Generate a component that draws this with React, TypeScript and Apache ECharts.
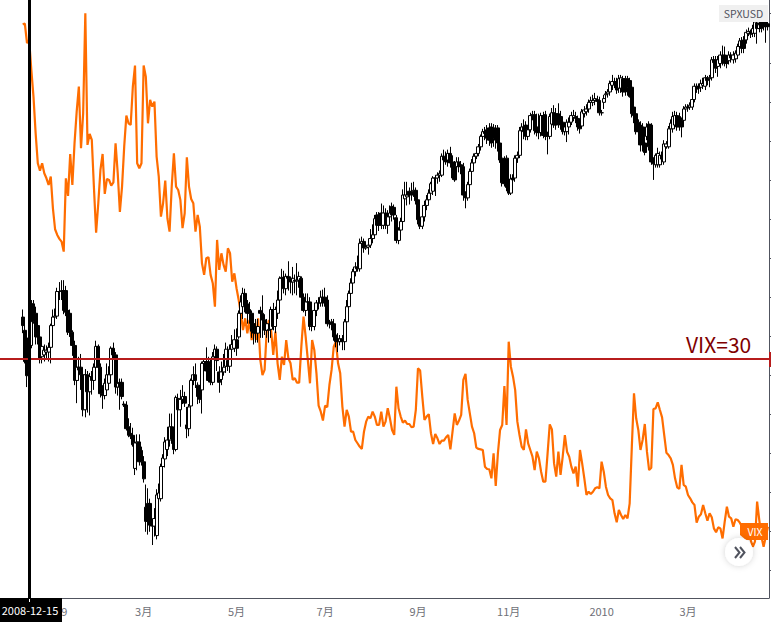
import React, { useEffect, useRef } from 'react';
import * as echarts from 'echarts';

// one daily point per row
const vixClose = [
  55.75, 55.8, 54.29, 54.54, 52.24, 50.18, 47.36, 45.06, 44.49, 45.06, 44.29, 43.9, 43.39, 44.03, 41.59, 39.98,
  39.54, 39.24, 39.03, 38.26, 43.9, 42.54, 45.77, 43.39, 46.59, 49.03, 50.95, 46.21, 48.9, 56.59, 46.47, 47.31,
  46.85, 43.13, 39.72, 41.98, 44.54, 45.77, 42.7, 43.85, 43.77, 43.34, 43.59, 46.59, 44.29, 41.31, 43.26, 46.34,
  48.72, 48.13, 48.0, 50.95, 52.57, 45.06, 44.67, 45.06, 52.57, 51.72, 48.13, 49.93, 49.41, 49.8, 45.57, 44.03,
  40.95, 41.98, 43.72, 40.83, 39.8, 43.26, 45.83, 43.26, 43.0, 42.24, 40.06, 41.21, 45.52, 43.26, 42.31, 41.98,
  39.8, 41.08, 40.18, 37.36, 36.47, 37.75, 37.83, 36.47, 35.83, 34.03, 39.16, 36.85, 38.13, 37.24, 36.72, 38.52,
  38.13, 35.95, 36.59, 35.44, 34.54, 33.52, 32.23, 33.13, 31.98, 33.0, 31.46, 32.75, 31.46, 33.13, 29.93, 28.77,
  29.16, 32.23, 33.0, 32.23, 30.31, 32.11, 29.67, 28.39, 30.18, 29.54, 31.46, 30.05, 29.67, 28.39, 28.52, 28.18,
  28.18, 30.95, 33.26, 31.72, 29.93, 28.13, 31.46, 30.7, 28.9, 26.41, 25.95, 25.26, 26.41, 26.29, 28.0, 29.16,
  30.95, 31.34, 29.67, 28.9, 26.34, 24.8, 26.08, 25.57, 24.41, 24.41, 23.77, 23.52, 23.26, 23.08, 24.41, 25.18,
  25.57, 25.44, 25.95, 25.57, 24.93, 24.93, 25.95, 24.8, 25.18, 26.21, 25.44, 24.54, 24.16, 27.87, 26.21, 25.57,
  25.11, 25.26, 25.0, 25.0, 24.75, 24.8, 26.08, 29.29, 29.11, 27.11, 25.31, 25.57, 25.75, 24.29, 23.46, 24.23,
  23.9, 23.46, 23.72, 23.72, 23.98, 24.16, 23.05, 24.41, 25.82, 24.93, 25.26, 25.7, 28.39, 28.85, 26.85, 25.82,
  24.8, 24.29, 23.18, 23.08, 23.05, 23.0, 21.72, 21.54, 21.52, 20.82, 22.75, 20.23, 22.75, 24.54, 24.92, 27.92,
  24.92, 31.33, 29.41, 28.64, 27.61, 25.18, 24.15, 23.26, 23.0, 24.59, 23.51, 23.0, 22.49, 21.46, 22.87, 22.36,
  21.33, 20.56, 20.56, 22.74, 24.97, 24.59, 21.97, 20.95, 22.87, 21.08, 22.49, 24.15, 22.87, 22.49, 21.72, 21.2,
  21.72, 20.18, 23.0, 21.97, 20.82, 19.54, 19.79, 19.61, 19.79, 20.05, 20.13, 20.05, 22.1, 21.33, 20.18, 19.54,
  19.28, 19.15, 18.13, 17.44, 18.38, 18.0, 17.69, 18.0, 17.74, 18.9, 23.26, 27.36, 25.44, 24.54, 23.0, 23.77,
  25.0, 22.87, 21.46, 21.64, 26.15, 26.2, 26.67, 26.08, 25.51, 24.15, 22.79, 22.61, 22.36, 21.85, 20.82, 20.13,
  20.0, 21.85, 20.31, 20.18, 19.54, 19.28, 18.97, 18.77, 17.41, 17.87, 18.05, 18.77, 18.13, 17.56, 18.13, 17.82,
  16.97, 16.67, 17.05, 16.97, 16.2, 17.49, 18.64, 17.87, 17.74, 17.1, 17.67, 17.61, 17.41, 17.1, 16.72, 16.59,
  16.33, 16.08, 15.56, 15.95, 19.03, 17.61, 16.33, 15.56, 16.33, 17.1,
];

// open, close, low, high
const spxOhlc = [
  [907, 898, 890, 915], [893, 860, 858, 905], [868, 845, 833, 885], [850, 885, 846, 900], [877, 921, 874, 925],
  [921, 902, 900, 925], [911, 886, 878, 918], [898, 886, 878, 905], [886, 863, 858, 888], [865, 876, 858, 880],
  [867, 872, 860, 878], [870, 872, 862, 877], [870, 875, 860, 880], [875, 898, 858, 900], [898, 907, 895, 915],
  [907, 908, 904, 916], [908, 934, 905, 938], [934, 934, 925, 944], [935, 934, 925, 946], [935, 914, 910, 946],
  [935, 912, 908, 940], [914, 891, 888, 918], [911, 891, 886, 915], [891, 877, 866, 893], [877, 840, 835, 882],
  [840, 854, 816, 860], [854, 851, 840, 865], [854, 846, 830, 868], [846, 809, 802, 850], [809, 846, 801, 852],
  [846, 828, 806, 850], [828, 844, 803, 848], [844, 840, 825, 850], [840, 854, 830, 858], [854, 876, 845, 882],
  [876, 854, 850, 878], [854, 826, 822, 858], [826, 824, 810, 835], [824, 837, 820, 842], [830, 846, 824, 858],
  [837, 846, 830, 855], [846, 874, 840, 876], [874, 867, 862, 880], [867, 833, 826, 870], [833, 837, 824, 845],
  [838, 833, 809, 842], [838, 823, 820, 842], [815, 814, 812, 818], [814, 789, 787, 818], [791, 782, 780, 800],
  [784, 781, 778, 795], [782, 772, 770, 790], [747, 774, 740, 780], [774, 775, 745, 783], [775, 754, 750, 783],
  [766, 754, 750, 770], [754, 736, 732, 760], [706, 691, 680, 730], [710, 691, 677, 726], [710, 687, 680, 715],
  [689, 686, 666, 692], [686, 694, 675, 705], [676, 719, 672, 725], [715, 721, 700, 731], [715, 749, 712, 752],
  [749, 758, 745, 762], [757, 775, 748, 780], [767, 777, 760, 791], [777, 791, 770, 805], [791, 778, 773, 805],
  [778, 767, 762, 784], [767, 822, 765, 824], [821, 809, 805, 826], [809, 820, 791, 830], [820, 823, 815, 835],
  [823, 816, 812, 828], [793, 789, 779, 812], [789, 812, 781, 815], [813, 840, 810, 842], [840, 846, 835, 855],
  [846, 840, 832, 858], [835, 823, 815, 838], [830, 820, 816, 835], [830, 858, 805, 860], [858, 860, 852, 862],
  [860, 850, 845, 875], [860, 840, 838, 865], [854, 838, 835, 862], [838, 865, 835, 870], [865, 873, 858, 878],
  [873, 861, 850, 876], [849, 838, 827, 855], [841, 849, 835, 860], [849, 854, 845, 868], [855, 873, 848, 880],
  [861, 855, 850, 876], [855, 873, 848, 878], [873, 878, 868, 888], [874, 883, 870, 894], [883, 874, 866, 895],
  [886, 911, 884, 914], [911, 923, 900, 930], [918, 932, 905, 938], [932, 919, 912, 937], [921, 911, 900, 925],
  [915, 911, 900, 923], [911, 892, 885, 914], [900, 890, 878, 905], [897, 890, 880, 905], [890, 897, 880, 905],
  [914, 911, 885, 918], [911, 904, 885, 930], [904, 893, 888, 910], [893, 900, 885, 905], [893, 894, 880, 900],
  [894, 915, 885, 918], [915, 897, 893, 922], [897, 915, 890, 918], [911, 925, 905, 935], [925, 948, 922, 950],
  [948, 949, 940, 958], [949, 937, 932, 956], [937, 950, 930, 953], [950, 948, 935, 966], [948, 944, 932, 950],
  [944, 948, 930, 960], [946, 945, 932, 952], [945, 946, 930, 964], [946, 950, 938, 955], [948, 928, 925, 950],
  [928, 914, 912, 932], [914, 923, 908, 932], [923, 923, 915, 932], [923, 897, 893, 928], [897, 898, 892, 902],
  [897, 914, 893, 918], [914, 922, 908, 925], [922, 922, 915, 928], [922, 928, 918, 935], [928, 922, 918, 936],
  [928, 922, 918, 938], [925, 900, 897, 930], [900, 900, 895, 904], [902, 899, 893, 905], [900, 886, 882, 905],
  [888, 881, 875, 892], [884, 881, 870, 890], [881, 884, 877, 888], [884, 881, 872, 888], [881, 902, 872, 905],
  [902, 918, 898, 925], [918, 932, 915, 935], [932, 943, 928, 948], [943, 955, 938, 958], [955, 960, 950, 965],
  [960, 958, 955, 972], [958, 985, 955, 990], [985, 987, 975, 992], [987, 980, 975, 990], [980, 981, 978, 985],
  [981, 983, 973, 986], [983, 990, 980, 1000], [990, 994, 985, 1005], [994, 1011, 990, 1015], [1015, 1004, 1000, 1018],
  [1015, 1004, 998, 1018], [1017, 1004, 1000, 1027], [1004, 1017, 1000, 1025], [1017, 1004, 1000, 1022], [1004, 1013, 995, 1020],
  [1013, 1017, 1008, 1025], [1024, 1015, 1008, 1028], [1023, 1015, 1010, 1026], [1012, 988, 985, 1015], [988, 999, 984, 1002],
  [999, 1008, 995, 1012], [1008, 1036, 1005, 1042], [1032, 1036, 1028, 1050], [1034, 1036, 1025, 1050], [1040, 1036, 1026, 1044],
  [1040, 1036, 1030, 1049], [1040, 1041, 1034, 1050], [1041, 1030, 1026, 1044], [1031, 1010, 1005, 1035], [1011, 1003, 1000, 1015],
  [1003, 1013, 1000, 1018], [1013, 1025, 1008, 1030], [1025, 1031, 1020, 1036], [1031, 1038, 1027, 1042], [1038, 1048, 1034, 1050],
  [1040, 1054, 1036, 1056], [1054, 1054, 1035, 1057], [1054, 1057, 1048, 1060], [1057, 1059, 1050, 1062], [1057, 1077, 1055, 1080],
  [1077, 1073, 1066, 1084], [1075, 1071, 1068, 1082], [1073, 1080, 1066, 1084], [1080, 1070, 1065, 1087], [1071, 1054, 1052, 1078],
  [1068, 1052, 1050, 1072], [1066, 1071, 1060, 1076], [1071, 1066, 1060, 1076], [1068, 1066, 1058, 1072], [1066, 1036, 1030, 1070],
  [1036, 1033, 1022, 1040], [1033, 1047, 1030, 1050], [1047, 1061, 1044, 1064], [1061, 1070, 1056, 1074], [1070, 1077, 1066, 1080],
  [1077, 1080, 1074, 1084], [1080, 1087, 1077, 1090], [1087, 1098, 1083, 1100], [1098, 1103, 1092, 1106], [1103, 1101, 1094, 1108],
  [1105, 1096, 1090, 1110], [1107, 1094, 1088, 1112], [1108, 1091, 1086, 1112], [1107, 1096, 1087, 1111], [1105, 1094, 1085, 1110],
  [1107, 1091, 1082, 1110], [1091, 1073, 1070, 1085], [1075, 1049, 1045, 1078], [1073, 1048, 1045, 1077], [1075, 1044, 1040, 1078],
  [1052, 1038, 1036, 1058], [1038, 1053, 1036, 1058], [1054, 1052, 1045, 1058], [1054, 1075, 1050, 1078], [1075, 1078, 1070, 1082],
  [1078, 1104, 1075, 1108], [1104, 1108, 1098, 1112], [1108, 1103, 1095, 1116], [1110, 1098, 1094, 1114], [1098, 1105, 1094, 1108],
  [1105, 1120, 1102, 1123], [1120, 1121, 1115, 1125], [1121, 1104, 1100, 1125], [1108, 1102, 1098, 1122], [1103, 1102, 1095, 1122],
  [1102, 1120, 1098, 1123], [1120, 1099, 1096, 1124], [1121, 1098, 1094, 1125], [1099, 1098, 1079, 1103], [1098, 1119, 1095, 1122],
  [1111, 1123, 1108, 1128], [1123, 1110, 1107, 1131], [1122, 1110, 1105, 1128], [1122, 1111, 1107, 1133], [1119, 1110, 1105, 1125],
  [1113, 1103, 1100, 1118], [1103, 1108, 1099, 1112], [1103, 1113, 1092, 1116], [1108, 1113, 1100, 1118], [1113, 1120, 1110, 1124],
  [1118, 1120, 1114, 1126], [1119, 1117, 1112, 1124], [1117, 1108, 1104, 1120], [1110, 1106, 1101, 1114], [1109, 1124, 1108, 1127],
  [1122, 1126, 1118, 1130], [1124, 1127, 1120, 1132], [1127, 1134, 1123, 1137], [1134, 1136, 1130, 1140], [1134, 1136, 1130, 1142],
  [1136, 1138, 1131, 1144], [1137, 1135, 1131, 1141], [1136, 1123, 1120, 1140], [1123, 1123, 1120, 1126], [1134, 1138, 1127, 1142],
  [1142, 1143, 1137, 1146], [1143, 1145, 1139, 1148], [1145, 1154, 1141, 1157], [1152, 1156, 1147, 1163], [1156, 1153, 1149, 1160],
  [1156, 1147, 1143, 1160], [1149, 1159, 1144, 1163], [1149, 1160, 1144, 1163], [1159, 1145, 1140, 1162], [1159, 1145, 1141, 1162],
  [1159, 1150, 1141, 1162], [1157, 1140, 1139, 1160], [1150, 1122, 1118, 1153], [1129, 1120, 1112, 1133], [1122, 1103, 1100, 1125],
  [1113, 1103, 1100, 1116], [1110, 1089, 1082, 1114], [1108, 1089, 1082, 1112], [1091, 1081, 1078, 1094], [1098, 1108, 1094, 1112],
  [1111, 1087, 1083, 1114], [1110, 1071, 1068, 1112], [1073, 1069, 1052, 1076], [1068, 1078, 1065, 1080], [1068, 1080, 1065, 1086],
  [1068, 1078, 1065, 1082], [1078, 1074, 1068, 1082], [1071, 1090, 1068, 1094], [1087, 1090, 1085, 1093], [1087, 1106, 1085, 1109],
  [1106, 1112, 1103, 1116], [1106, 1119, 1102, 1124], [1110, 1120, 1106, 1125], [1120, 1108, 1104, 1124], [1119, 1108, 1104, 1123],
  [1116, 1108, 1097, 1118], [1115, 1127, 1112, 1130], [1127, 1129, 1122, 1132], [1129, 1128, 1124, 1132], [1129, 1131, 1126, 1134],
  [1129, 1137, 1126, 1140], [1137, 1151, 1134, 1154], [1151, 1148, 1144, 1154], [1151, 1149, 1143, 1154], [1150, 1154, 1145, 1158],
  [1152, 1154, 1148, 1160], [1151, 1160, 1147, 1163], [1160, 1157, 1152, 1162], [1159, 1160, 1150, 1163], [1160, 1179, 1157, 1182],
  [1179, 1176, 1172, 1183], [1179, 1170, 1165, 1183], [1172, 1179, 1161, 1183], [1175, 1184, 1170, 1188], [1184, 1179, 1173, 1194],
  [1184, 1175, 1172, 1193], [1179, 1175, 1170, 1184], [1178, 1184, 1174, 1188], [1184, 1181, 1176, 1187], [1179, 1184, 1175, 1188],
  [1180, 1186, 1176, 1189], [1184, 1193, 1180, 1196], [1193, 1199, 1188, 1202], [1199, 1191, 1186, 1203], [1200, 1191, 1186, 1204],
  [1200, 1208, 1196, 1211], [1207, 1209, 1204, 1213], [1209, 1206, 1202, 1211], [1207, 1212, 1203, 1216], [1207, 1219, 1203, 1222],
  [1218, 1212, 1196, 1222], [1212, 1216, 1208, 1220], [1219, 1212, 1208, 1222], [1219, 1214, 1210, 1222], [1219, 1214, 1197, 1222],
  [1217, 1214, 1210, 1220],
];

const monthLabels = ['2009', '3月', '5月', '7月', '9月', '11月', '2010', '3月'];
const monthSlots = [25, 66, 109, 150, 193, 235, 278, 318];
const spxAxisTicks = [1228.5, 1175.6, 1134.4, 1093.1, 1051.9, 1010.6, 969.4, 928.2, 886.9, 845.7, 804.5, 763.2, 722, 680.8, 639.5];

const SLOT_COUNT = 356;
const LEAD_SLOTS = 10; // empty days left of the first bar
const CROSSHAIR_SLOT = 13; // 2008-12-15

const categories: string[] = Array(SLOT_COUNT).fill('');
monthSlots.forEach((slot, i) => {
  categories[slot] = monthLabels[i];
});

const AXIS_COLOR = '#50535e';
const LABEL_COLOR = '#6f7178';
const FONT = '"Noto Sans CJK SC", "Noto Sans", sans-serif';

export default function App() {
  const chartRef = useRef<HTMLDivElement>(null);

  useEffect(() => {
    document.body.style.margin = '0';
    if (!chartRef.current) return;
    const chart = echarts.init(chartRef.current, undefined, { renderer: 'svg' });
    const hasLabel = (_: number, value: string) => value !== '';

    chart.setOption({
      animation: false,
      backgroundColor: '#fff',
      grid: { left: 0, right: 2, top: 0, height: 598 },
      xAxis: {
        type: 'category',
        data: categories,
        boundaryGap: true,
        axisLine: { lineStyle: { color: AXIS_COLOR, width: 1 } },
        axisTick: { alignWithLabel: true, interval: hasLabel, length: 4, lineStyle: { color: AXIS_COLOR } },
        axisLabel: { interval: hasLabel, color: LABEL_COLOR, fontSize: 11, fontFamily: FONT, margin: 7 },
        splitLine: { show: false },
      },
      yAxis: [
        {
          type: 'value',
          position: 'right',
          min: 610,
          max: 1242.2,
          axisLine: { show: true, lineStyle: { color: AXIS_COLOR, width: 1 } },
          axisTick: { show: true, length: 2, customValues: spxAxisTicks, lineStyle: { color: AXIS_COLOR } },
          axisLabel: { show: false },
          splitLine: { show: false },
        },
        {
          type: 'value',
          min: 11.615,
          max: 57.615,
          show: false,
          splitLine: { show: false },
        },
      ],
      series: [
        {
          name: 'VIX',
          type: 'line',
          yAxisIndex: 1,
          z: 2,
          data: vixClose.map((v, i) => [i + LEAD_SLOTS, v]),
          showSymbol: false,
          symbol: 'none',
          lineStyle: { color: '#ff6d00', width: 2.2 },
          markLine: {
            silent: true,
            symbol: 'none',
            animation: false,
            z: 6,
            label: { show: false },
            lineStyle: { color: '#b71c1c', width: 2, type: 'solid' },
            data: [{ yAxis: 30 }],
          },
        },
        {
          name: 'SPXUSD',
          type: 'candlestick',
          z: 3,
          barWidth: 3.5,
          large: false,
          progressive: 0,
          dimensions: ['slot', 'open', 'close', 'low', 'high'],
          encode: { x: 'slot', y: ['open', 'close', 'low', 'high'] },
          data: spxOhlc.map((row, i) => [i + LEAD_SLOTS, ...row]),
          itemStyle: {
            color: '#ffffff',
            color0: '#000000',
            borderColor: '#000000',
            borderColor0: '#000000',
            borderWidth: 1,
          },
          markLine: {
            silent: true,
            symbol: 'none',
            animation: false,
            z: 7,
            label: { show: false },
            lineStyle: { color: '#000000', width: 3, type: 'solid' },
            data: [{ xAxis: CROSSHAIR_SLOT }],
          },
        },
      ],
      graphic: [
        // red tag where the VIX=30 line meets the price scale
        { type: 'rect', z: 100, shape: { x: 769, y: 352, width: 2, height: 15 }, style: { fill: '#b71c1c' } },
        {
          type: 'text',
          z: 100,
          x: 686,
          y: 333,
          style: { text: 'VIX=30', fill: '#7f0000', fontSize: 21, fontFamily: FONT },
        },
        // series name tags
        { type: 'rect', z: 100, shape: { x: 719, y: 5, width: 49, height: 17 }, style: { fill: '#f0f0f0' } },
        {
          type: 'text',
          z: 101,
          x: 743.5,
          y: 13.5,
          style: { text: 'SPXUSD', fill: AXIS_COLOR, fontSize: 10.5, fontFamily: FONT, align: 'center', verticalAlign: 'middle' },
        },
        {
          type: 'polygon',
          z: 100,
          shape: { points: [[740, 523], [768, 523], [768, 540], [746, 540], [740, 535]] },
          style: { fill: '#ff6d00' },
        },
        {
          type: 'text',
          z: 101,
          x: 755,
          y: 531.5,
          style: { text: 'VIX', fill: '#ffffff', fontSize: 10.5, fontFamily: FONT, align: 'center', verticalAlign: 'middle' },
        },
        // scroll-to-latest button
        {
          type: 'circle',
          z: 100,
          shape: { cx: 739, cy: 552, r: 14 },
          style: { fill: '#ffffff', shadowBlur: 6, shadowColor: 'rgba(0,0,0,0.18)' },
        },
        {
          type: 'polyline',
          z: 101,
          shape: { points: [[735, 547], [739.5, 552.5], [735, 558]] },
          style: { stroke: AXIS_COLOR, lineWidth: 2, fill: 'none' },
        },
        {
          type: 'polyline',
          z: 101,
          shape: { points: [[740, 547], [744.5, 552.5], [740, 558]] },
          style: { stroke: AXIS_COLOR, lineWidth: 2, fill: 'none' },
        },
        // crosshair date tag on the time scale
        { type: 'rect', z: 100, shape: { x: 0, y: 598, width: 62, height: 24 }, style: { fill: '#000000' } },
        { type: 'rect', z: 101, shape: { x: 29, y: 599, width: 1, height: 3 }, style: { fill: '#ffffff' } },
        {
          type: 'text',
          z: 101,
          x: 30,
          y: 610,
          style: { text: '2008-12-15', fill: '#ffffff', fontSize: 11, fontFamily: FONT, align: 'center', verticalAlign: 'middle' },
        },
      ],
    });

    return () => {
      chart.dispose();
    };
  }, []);

  return <div ref={chartRef} style={{ width: 771, height: 624 }} />;
}
